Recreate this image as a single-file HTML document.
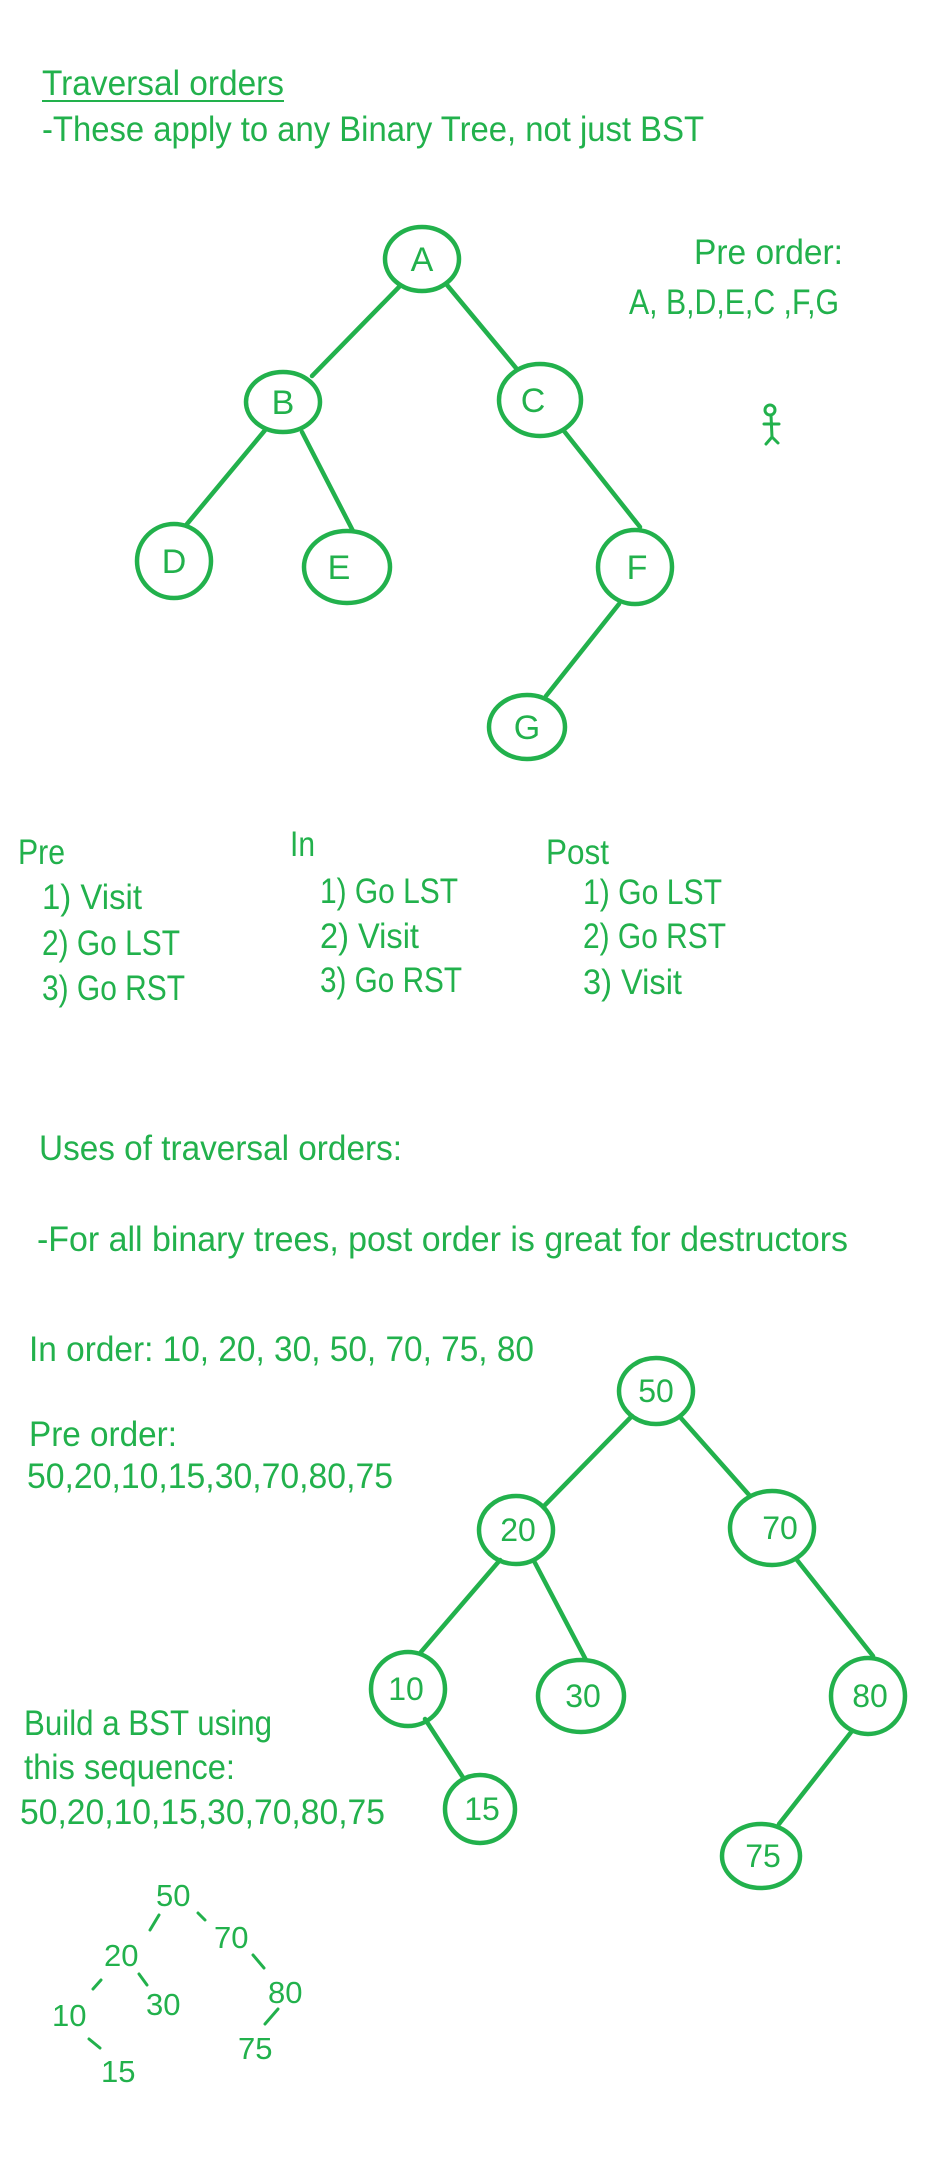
<!DOCTYPE html>
<html><head><meta charset="utf-8"><style>
html,body{margin:0;padding:0;background:#fff;}
svg{display:block;}
text{font-family:"Liberation Sans",sans-serif;fill:#22B14C;}
</style></head><body>
<svg width="928" height="2160" viewBox="0 0 928 2160" xmlns="http://www.w3.org/2000/svg">
<g font-size="35">
<text x="42" y="95" textLength="242" lengthAdjust="spacingAndGlyphs">Traversal orders</text>
<line x1="42" y1="101" x2="284" y2="101" stroke="#22B14C" stroke-width="2"/>
<text x="42" y="141" textLength="662" lengthAdjust="spacingAndGlyphs">-These apply to any Binary Tree, not just BST</text>
<text x="694" y="264" textLength="149" lengthAdjust="spacingAndGlyphs">Pre order:</text>
<text x="629" y="314" textLength="210" lengthAdjust="spacingAndGlyphs">A, B,D,E,C ,F,G</text>

<text x="18" y="864" textLength="47" lengthAdjust="spacingAndGlyphs">Pre</text>
<text x="42" y="909" textLength="100" lengthAdjust="spacingAndGlyphs">1) Visit</text>
<text x="42" y="955" textLength="138" lengthAdjust="spacingAndGlyphs">2) Go LST</text>
<text x="42" y="1000" textLength="143" lengthAdjust="spacingAndGlyphs">3) Go RST</text>
<text x="290" y="856" textLength="25" lengthAdjust="spacingAndGlyphs">In</text>
<text x="320" y="903" textLength="138" lengthAdjust="spacingAndGlyphs">1) Go LST</text>
<text x="320" y="948" textLength="99" lengthAdjust="spacingAndGlyphs">2) Visit</text>
<text x="320" y="992" textLength="142" lengthAdjust="spacingAndGlyphs">3) Go RST</text>
<text x="546" y="864" textLength="63" lengthAdjust="spacingAndGlyphs">Post</text>
<text x="583" y="904" textLength="139" lengthAdjust="spacingAndGlyphs">1) Go LST</text>
<text x="583" y="948" textLength="143" lengthAdjust="spacingAndGlyphs">2) Go RST</text>
<text x="583" y="994" textLength="99" lengthAdjust="spacingAndGlyphs">3) Visit</text>

<text x="39" y="1160" textLength="363" lengthAdjust="spacingAndGlyphs">Uses of traversal orders:</text>
<text x="37" y="1251" textLength="811" lengthAdjust="spacingAndGlyphs">-For all binary trees, post order is great for destructors</text>
<text x="29" y="1361" textLength="505" lengthAdjust="spacingAndGlyphs">In order: 10, 20, 30, 50, 70, 75, 80</text>
<text x="29" y="1446" textLength="148" lengthAdjust="spacingAndGlyphs">Pre order:</text>
<text x="27" y="1488" textLength="366" lengthAdjust="spacingAndGlyphs">50,20,10,15,30,70,80,75</text>
<text x="24" y="1735" textLength="248" lengthAdjust="spacingAndGlyphs">Build a BST using</text>
<text x="24" y="1779" textLength="211" lengthAdjust="spacingAndGlyphs">this sequence:</text>
<text x="20" y="1824" textLength="365" lengthAdjust="spacingAndGlyphs">50,20,10,15,30,70,80,75</text>
</g>

<g stroke="#22B14C" stroke-width="4.5" fill="none" stroke-linecap="round">
<line x1="399" y1="287" x2="312" y2="376"/>
<line x1="447" y1="285" x2="516" y2="368"/>
<line x1="266" y1="429" x2="187" y2="524"/>
<line x1="302" y1="432" x2="353" y2="531"/>
<line x1="564" y1="431" x2="640" y2="527"/>
<line x1="619" y1="604" x2="546" y2="696"/>
<ellipse cx="422" cy="259" rx="37" ry="32"/>
<ellipse cx="283" cy="402" rx="37" ry="30"/>
<ellipse cx="540" cy="400" rx="41" ry="36"/>
<ellipse cx="174" cy="561" rx="37" ry="37"/>
<ellipse cx="347" cy="567" rx="43" ry="36"/>
<ellipse cx="635" cy="567" rx="37" ry="37"/>
<ellipse cx="527" cy="727" rx="38" ry="32"/>

<line x1="632" y1="1416" x2="545" y2="1505"/>
<line x1="680" y1="1417" x2="750" y2="1496"/>
<line x1="500" y1="1560" x2="421" y2="1652"/>
<line x1="534" y1="1561" x2="586" y2="1660"/>
<line x1="797" y1="1560" x2="873" y2="1656"/>
<line x1="425" y1="1719" x2="464" y2="1779"/>
<line x1="852" y1="1731" x2="779" y2="1824"/>
<ellipse cx="656" cy="1391" rx="37" ry="33"/>
<ellipse cx="516" cy="1530" rx="37" ry="34"/>
<ellipse cx="772" cy="1528" rx="42" ry="37"/>
<ellipse cx="408" cy="1689" rx="37" ry="37"/>
<ellipse cx="581" cy="1696" rx="43" ry="36"/>
<ellipse cx="868" cy="1696" rx="37" ry="38"/>
<ellipse cx="480" cy="1809" rx="35" ry="34"/>
<ellipse cx="761" cy="1856" rx="39" ry="32"/>
</g>

<g stroke="#22B14C" stroke-width="3" fill="none" stroke-linecap="round">
<circle cx="770" cy="410" r="5"/>
<line x1="771" y1="415" x2="772" y2="437"/>
<line x1="764" y1="424" x2="779" y2="424"/>
<line x1="772" y1="437" x2="766" y2="444"/>
<line x1="772" y1="437" x2="778" y2="443"/>
<line x1="159" y1="1915" x2="150" y2="1930"/>
<line x1="198" y1="1913" x2="205" y2="1920"/>
<line x1="253" y1="1955" x2="264" y2="1968"/>
<line x1="139" y1="1974" x2="147" y2="1985"/>
<line x1="101" y1="1980" x2="93" y2="1989"/>
<line x1="278" y1="2009" x2="265" y2="2024"/>
<line x1="89" y1="2039" x2="100" y2="2048"/>
</g>

<g font-size="34" text-anchor="middle">
<text x="422" y="271">A</text>
<text x="283" y="414">B</text>
<text x="533" y="412">C</text>
<text x="174" y="573">D</text>
<text x="339" y="579">E</text>
<text x="637" y="579">F</text>
<text x="527" y="739">G</text>
</g>
<g font-size="32" text-anchor="middle">
<text x="656" y="1402">50</text>
<text x="518" y="1541">20</text>
<text x="780" y="1539">70</text>
<text x="406" y="1700">10</text>
<text x="583" y="1707">30</text>
<text x="870" y="1707">80</text>
<text x="482" y="1820">15</text>
<text x="763" y="1867">75</text>
</g>
<g font-size="31">
<text x="156" y="1906">50</text>
<text x="214" y="1948">70</text>
<text x="104" y="1966">20</text>
<text x="268" y="2003">80</text>
<text x="146" y="2015">30</text>
<text x="52" y="2026">10</text>
<text x="238" y="2059">75</text>
<text x="101" y="2082">15</text>
</g>
</svg>
</body></html>
